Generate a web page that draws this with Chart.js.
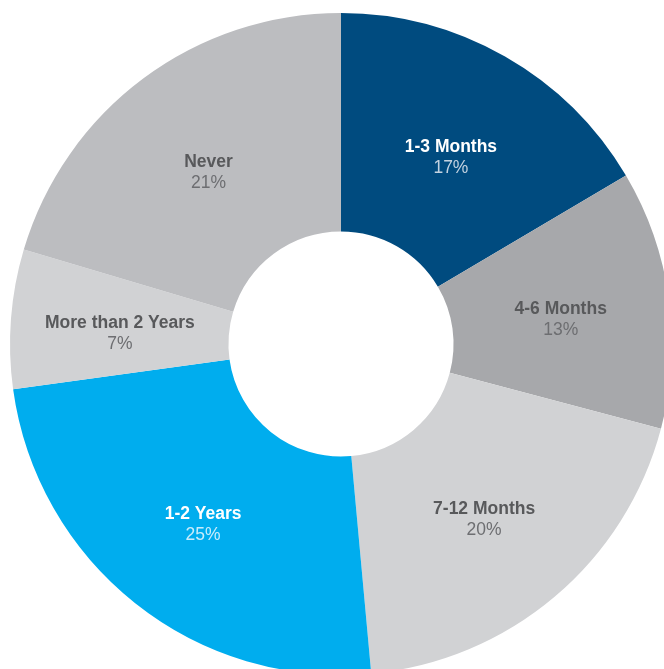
<!DOCTYPE html>
<html>
<head>
<meta charset="utf-8">
<script src="https://cdn.jsdelivr.net/npm/chart.js@4/dist/chart.umd.min.js"></script>
<style>
	html, body { margin: 0; padding: 0; background: #fff; overflow: hidden; }
	#wrap { width: 682px; height: 688px; }
</style>
</head>
<body>
<div id="wrap"><canvas id="donut" width="682" height="688"></canvas></div>
<script>
const labels = ["1-3 Months", "4-6 Months", "7-12 Months", "1-2 Years", "More than 2 Years", "Never"];
const values = [17, 13, 20, 25, 7, 21];
const colors = ["#004b7f", "#a7a8ab", "#d1d2d4", "#00adee", "#d1d2d4", "#bcbdc0"];
const nameColors = ["#ffffff", "#58595b", "#58595b", "#ffffff", "#58595b", "#58595b"];
const pctColors = ["#c3d2e0", "#6d6e71", "#6d6e71", "#c8ecfb", "#6d6e71", "#6d6e71"];

const sliceLabels = {
	id: "sliceLabels",
	afterDatasetsDraw(chart) {
		const ctx = chart.ctx;
		const meta = chart.getDatasetMeta(0);
		meta.data.forEach((arc, i) => {
			const p = arc.getProps(["x", "y", "startAngle", "endAngle", "innerRadius", "outerRadius"], true);
			const mid = (p.startAngle + p.endAngle) / 2;
			const r = p.innerRadius + (p.outerRadius - p.innerRadius) * 0.5;
			const x = p.x + Math.cos(mid) * r;
			const y = p.y + Math.sin(mid) * r + 6;
			ctx.save();
			ctx.textAlign = "center";
			ctx.textBaseline = "middle";
			ctx.font = "bold 17.5px 'Liberation Sans', Arial, sans-serif";
			ctx.fillStyle = nameColors[i];
			ctx.fillText(labels[i], x, y - 10);
			ctx.font = "17.5px 'Liberation Sans', Arial, sans-serif";
			ctx.fillStyle = pctColors[i];
			ctx.fillText(values[i] + "%", x, y + 11);
			ctx.restore();
		});
	}
};

new Chart(document.getElementById("donut"), {
	type: "doughnut",
	data: {
		labels: labels,
		datasets: [{
			data: values,
			backgroundColor: colors,
			borderWidth: 0,
		}],
	},
	options: {
		responsive: false,
		animation: false,
		cutout: "34%",
		layout: { padding: { left: 10, right: 10, top: 13, bottom: 13 } },
		plugins: {
			legend: { display: false },
			tooltip: { enabled: false },
		},
	},
	plugins: [sliceLabels],
});
</script>
</body>
</html>
